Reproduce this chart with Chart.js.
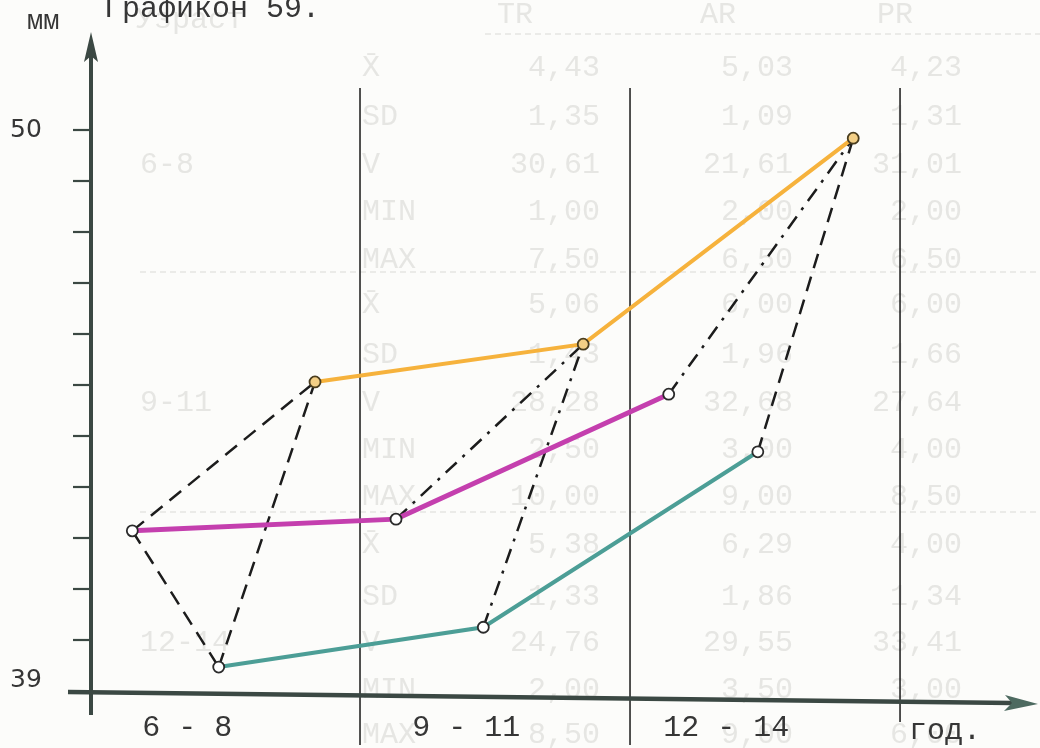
<html>
<head>
<meta charset="utf-8">
<script src="https://cdn.jsdelivr.net/npm/chart.js"></script>
<style>
  body { margin: 0; background: #fcfcfa; }
  canvas { display: block; }
</style>
</head>
<body>
<canvas id="myChart" width="1040" height="748"></canvas>
<script>
// values (mm), x = position along the age axis (years)
const magentaX = [5.47, 8.40, 11.43];
const magentaY = [42.14, 42.37, 44.82];
const tealX = [6.43, 9.37, 12.42];
const tealY = [39.47, 40.25, 43.69];
const orangeX = [7.50, 10.48, 13.48];
const orangeY = [45.06, 45.80, 49.84];

// dashed triangles inside each age group
const links = [
  [0, 'magenta', 'orange', 'dash'],
  [0, 'magenta', 'teal', 'dash'],
  [0, 'teal', 'orange', 'dash'],
  [1, 'magenta', 'orange', 'dashdot'],
  [1, 'teal', 'orange', 'dashdot'],
  [2, 'magenta', 'orange', 'dashdot'],
  [2, 'teal', 'orange', 'dash'],
];

const ageGroups = ['6 - 8', '9 - 11', '12 - 14'];
const ageLabelAt = [6.08, 9.18, 12.07];
const unitLabel = 'год.';
const unitLabelAt = 14.5;
const groupBounds = [8, 11, 14];
const yTicks = [40, 41, 42, 43, 44, 45, 46, 47, 48, 49, 50];
const yLabels = ['50', '39'];
const yLabelAt = [50, 39.2];
const title = 'Графикон 59.';
const yUnit = 'мм';

// faint table showing through from the back of the page
const ghostHeader = ['Узраст', 'TR', 'AR', 'PR'];
const ghostGroups = ['6-8', '9-11', '12-14'];
const ghostStats = ['X̄', 'SD', 'V', 'MIN', 'MAX'];
const ghostTR = ['4,43','1,35','30,61','1,00','7,50','5,06','1,43','28,28','2,50','10,00','5,38','1,33','24,76','2,00','8,50'];
const ghostAR = ['5,03','1,09','21,61','2,00','6,50','6,00','1,96','32,68','3,00','9,00','6,29','1,86','29,55','3,50','9,00'];
const ghostPR = ['4,23','1,31','31,01','2,00','6,50','6,00','1,66','27,64','4,00','8,50','4,00','1,34','33,41','3,00','6,00'];

const pts = (xs, ys) => xs.map((x, i) => ({ x: x, y: ys[i] }));
const series = {
  magenta: pts(magentaX, magentaY),
  teal: pts(tealX, tealY),
  orange: pts(orangeX, orangeY),
};

const seriesStyle = {
  magenta: { color: '#c43fae', width: 5, fill: '#ffffff', edge: '#2b2b2b' },
  teal: { color: '#4c9e96', width: 4, fill: '#ffffff', edge: '#2b2b2b' },
  orange: { color: '#f6b23c', width: 4, fill: '#f3cf86', edge: '#4a3d1e' },
};

const datasets = [];
Object.keys(series).forEach(function (k) {
  const s = seriesStyle[k];
  datasets.push({
    data: series[k],
    borderColor: s.color,
    borderWidth: s.width,
    pointRadius: 5.5,
    pointBackgroundColor: s.fill,
    pointBorderColor: s.edge,
    pointBorderWidth: 1.8,
    tension: 0,
    order: 0,
  });
});
links.forEach(function (l) {
  datasets.push({
    data: [series[l[1]][l[0]], series[l[2]][l[0]]],
    borderColor: '#1c1c1c',
    borderWidth: 2.5,
    borderDash: l[3] === 'dash' ? [15, 9] : [15, 8, 3, 8],
    pointRadius: 0,
    tension: 0,
    order: 1,
  });
});

const INK = '#363636';
const AXIS = '#3b4843';

const ghostTable = {
  id: 'ghostTable',
  beforeDatasetsDraw(chart) {
    const ctx = chart.ctx;
    ctx.save();
    ctx.fillStyle = '#e6e6e3';
    ctx.font = '30px "Liberation Mono"';
    ctx.textBaseline = 'middle';
    ctx.textAlign = 'left';
    ctx.fillText(ghostHeader[0], 136, 20);
    ctx.textAlign = 'center';
    ctx.fillText(ghostHeader[1], 515, 15);
    ctx.fillText(ghostHeader[2], 718, 15);
    ctx.fillText(ghostHeader[3], 895, 15);
    const rowY = [68, 117, 165, 212, 260, 305, 355, 403, 450, 497, 545, 597, 643, 690, 735];
    for (let i = 0; i < 15; i++) {
      ctx.textAlign = 'left';
      ctx.fillText(ghostStats[i % 5], 362, rowY[i]);
      ctx.textAlign = 'right';
      ctx.fillText(ghostTR[i], 600, rowY[i]);
      ctx.fillText(ghostAR[i], 793, rowY[i]);
      ctx.fillText(ghostPR[i], 962, rowY[i]);
    }
    ctx.textAlign = 'left';
    ghostGroups.forEach(function (g, i) { ctx.fillText(g, 140, rowY[i * 5 + 2]); });
    ctx.strokeStyle = '#ebebe8';
    ctx.lineWidth = 2;
    ctx.setLineDash([6, 4]);
    [[485, 34], [140, 272], [140, 512]].forEach(function (d) {
      ctx.beginPath(); ctx.moveTo(d[0], d[1]); ctx.lineTo(1040, d[1]); ctx.stroke();
    });
    ctx.restore();
  }
};

const handAxes = {
  id: 'handAxes',
  beforeDatasetsDraw(chart) {
    const ctx = chart.ctx;
    const x = chart.scales.x, y = chart.scales.y;
    const x0 = 91, yAxis = y.getPixelForValue(39);
    ctx.save();

    // group separators
    ctx.strokeStyle = '#262626';
    ctx.lineWidth = 1.6;
    const bottoms = [745, 745, 722];
    groupBounds.forEach(function (b, i) {
      const px = x.getPixelForValue(b);
      ctx.beginPath(); ctx.moveTo(px, 88); ctx.lineTo(px, bottoms[i]); ctx.stroke();
    });

    // y axis with arrow
    ctx.strokeStyle = AXIS;
    ctx.fillStyle = AXIS;
    ctx.lineWidth = 4;
    ctx.beginPath(); ctx.moveTo(x0, 50); ctx.lineTo(x0, 715); ctx.stroke();
    ctx.beginPath();
    ctx.moveTo(x0, 32); ctx.lineTo(x0 - 7, 62); ctx.lineTo(x0, 56); ctx.lineTo(x0 + 7, 62);
    ctx.closePath(); ctx.fill();

    // y ticks
    ctx.lineWidth = 2.2;
    yTicks.forEach(function (v) {
      const py = y.getPixelForValue(v);
      ctx.beginPath(); ctx.moveTo(73, py); ctx.lineTo(x0, py); ctx.stroke();
    });

    // x axis with arrow (slightly skewed like the drawing)
    ctx.lineWidth = 4.5;
    ctx.beginPath(); ctx.moveTo(68, yAxis + 1); ctx.lineTo(1012, yAxis + 12); ctx.stroke();
    ctx.fillStyle = '#4d6a60';
    ctx.beginPath();
    ctx.moveTo(1038, yAxis + 13); ctx.lineTo(1005, yAxis + 4); ctx.lineTo(1012, yAxis + 12); ctx.lineTo(1004, yAxis + 20);
    ctx.closePath(); ctx.fill();

    // texts
    ctx.fillStyle = INK;
    ctx.textBaseline = 'middle';
    ctx.font = '25px "DejaVu Sans"';
    ctx.textAlign = 'left';
    yLabels.forEach(function (t, i) { ctx.fillText(t, 10, y.getPixelForValue(yLabelAt[i])); });

    ctx.font = '27px "Liberation Mono"';
    ctx.fillText(yUnit, 27, 22);
    ctx.font = '30px "Liberation Mono"';
    ctx.textBaseline = 'alphabetic';
    ctx.fillText(title, 104, 17);

    ctx.textBaseline = 'middle';
    ctx.textAlign = 'center';
    ageGroups.forEach(function (g, i) { ctx.fillText(g, x.getPixelForValue(ageLabelAt[i]), 728); });
    ctx.fillText(unitLabel, x.getPixelForValue(unitLabelAt), 731);
    ctx.restore();
  }
};

const config = {
  type: 'line',
  data: { datasets },
  options: {
    responsive: false,
    animation: false,
    layout: { padding: { left: 90, right: 10, top: 28, bottom: 57 } },
    scales: {
      x: { type: 'linear', min: 5, max: 15.444, display: false },
      y: { type: 'linear', min: 39, max: 52, display: false },
    },
    plugins: {
      legend: { display: false },
      tooltip: { enabled: false },
    },
  },
  plugins: [ghostTable, handAxes],
};
new Chart(document.getElementById('myChart'), config);
</script>
</body>
</html>
